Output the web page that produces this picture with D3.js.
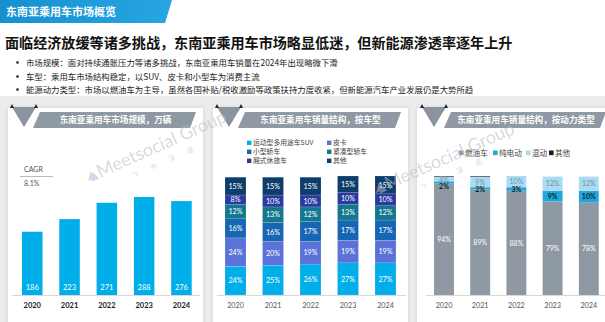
<!DOCTYPE html>
<html><head><meta charset="utf-8">
<script src="https://cdn.jsdelivr.net/npm/d3@7/dist/d3.min.js"></script>
<style>
html,body{margin:0;padding:0;background:#fff;}
svg{display:block;font-family:"Noto Sans CJK SC","Noto Sans",sans-serif;}
</style></head>
<body>
<svg id="c" width="605" height="322"></svg>
<script>
// ---------- data ----------
const years = ["2020","2021","2022","2023","2024"];
const marketSize = [186, 223, 271, 288, 276];
const cagrLabel = "8.1%";

const typeNames = ["运动型多用途车SUV","皮卡","小型轿车","紧凑型轿车","厢式休旅车","其他"];
const typeSUV      = [24, 25, 26, 27, 27];
const typePickup   = [24, 20, 19, 19, 19];
const typeSmall    = [16, 16, 17, 17, 17];
const typeCompact  = [12, 13, 12, 13, 12];
const typeMPV      = [8, 10, 10, 10, 10];
const typeOther    = [15, 15, 15, 15, 15];

const powerNames = ["燃油车","纯电动","混动","其他"];
const powerICE    = [94, 89, 88, 79, 78];
const powerBEV    = [2, 2, 3, 9, 10];
const powerHybrid = [4, 9, 10, 12, 12];
const powerOther  = [0.5, 0.5, 0.5, 0, 0];

const headerText = "东南亚乘用车市场概览";
const titleText = "面临经济放缓等诸多挑战，东南亚乘用车市场略显低迷，但新能源渗透率逐年上升";
const bullets = [
  "市场规模：面对持续通胀压力等诸多挑战，东南亚乘用车销量在2024年出现略微下滑",
  "车型：乘用车市场结构稳定，以SUV、皮卡和小型车为消费主流",
  "能源动力类型：市场以燃油车为主导，虽然各国补贴/税收激励等政策扶持力度收紧，但新能源汽车产业发展仍是大势所趋"
];
const panelTitles = ["东南亚乘用车市场规模，万辆","东南亚乘用车销量结构，按车型","东南亚乘用车销量结构，按动力类型"];

// ---------- drawing ----------
const svg = d3.select("#c");
const defs = svg.append("defs");
const grad = defs.append("linearGradient").attr("id","hg").attr("x1","0").attr("x2","1");
grad.append("stop").attr("offset","0").attr("stop-color","#1590d0");
grad.append("stop").attr("offset","1").attr("stop-color","#27a6e2");
const sh = defs.append("filter").attr("id","sh").attr("x","-5%").attr("y","-5%").attr("width","110%").attr("height","110%");
sh.append("feDropShadow").attr("dx",0).attr("dy",0).attr("stdDeviation",2).attr("flood-color","#000").attr("flood-opacity",0.12);

// background
svg.append("rect").attr("x",0).attr("y",96).attr("width",605).attr("height",226).attr("fill","#ececec");

// header banner
svg.append("path").attr("d","M0,0 L172,0 L165,23 L0,23 Z").attr("fill","url(#hg)");
svg.append("text").attr("x",6).attr("y",15.5).attr("fill","#fff").attr("font-size",11).attr("font-weight","bold").text(headerText);

// title
svg.append("text").attr("x",5).attr("y",48).attr("fill","#111").attr("font-size",14.1).attr("font-weight","bold").text(titleText);

// bullets
const bY = [63, 77, 90];
bullets.forEach((t,i)=>{
  svg.append("circle").attr("cx",17.5).attr("cy",bY[i]-0.5).attr("r",1.3).attr("fill","#222");
  svg.append("text").attr("x",26).attr("y",bY[i]+3).attr("fill","#222").attr("font-size",8.4).text(t);
});

// panels
const panels = [{x:8,w:195},{x:213,w:195},{x:417,w:200}];
panels.forEach(p=>{
  svg.append("rect").attr("x",p.x).attr("y",108).attr("width",p.w).attr("height",222).attr("fill","#fff").attr("filter","url(#sh)");
});

function panelHeader(tx, bx0, bx1, title){
  svg.append("path").attr("d",`M${tx+2},107 L${tx+26},107 L${tx+14},127 Z`).attr("fill","#8a949e");
  svg.append("path").attr("d",`M${tx},108 L${tx+2},104 L${tx+4},108 Z`).attr("fill","#222");
  svg.append("path").attr("d",`M${tx+24},108 L${tx+26},104 L${tx+28},108 Z`).attr("fill","#222");
  svg.append("path").attr("d",`M${bx0+7},112 L${bx1},112 L${bx1-6},128 L${bx0},128 Z`).attr("fill","#8f99a3");
  svg.append("text").attr("x",(bx0+bx1)/2+1).attr("y",123).attr("text-anchor","middle").attr("fill","#fff").attr("font-size",8.6).attr("font-weight","bold").text(title);
}
panelHeader(10, 33, 196, panelTitles[0]);
panelHeader(215, 238, 401, panelTitles[1]);
panelHeader(420, 444, 606, panelTitles[2]);

const yTop = 176, yBase = 295;
const numFont = "Lato, 'Noto Sans', sans-serif";

// ---- Chart 1 ----
const x1 = d3.scaleBand().domain(years).range([13.6,200.1]).paddingInner(0.45).paddingOuter(0.225);
const y1 = d3.scaleLinear().domain([0,288]).range([yBase,197]);
svg.append("g").selectAll("rect").data(years).join("rect")
  .attr("x",d=>x1(d)).attr("width",x1.bandwidth())
  .attr("y",(d,i)=>y1(marketSize[i])).attr("height",(d,i)=>yBase-y1(marketSize[i]))
  .attr("fill","#00aeea");
svg.append("g").selectAll("text").data(years).join("text")
  .attr("x",d=>x1(d)+x1.bandwidth()/2).attr("y",yBase-5)
  .attr("text-anchor","middle").attr("fill","#fff").attr("font-size",7.5).attr("font-family",numFont)
  .text((d,i)=>marketSize[i]);
const ax1 = svg.append("g").attr("transform",`translate(0,${yBase})`)
  .call(d3.axisBottom(x1).tickSize(0).tickPadding(8));
ax1.select(".domain").attr("d","M12,0.5H200").attr("stroke","#d8d8d8").attr("stroke-width",1.2);
ax1.selectAll("text").attr("font-size",7.5).attr("font-family",numFont).attr("font-weight",700).attr("fill","#222");
svg.append("text").attr("x",24).attr("y",172).attr("fill","#555").attr("font-size",7).attr("font-family",numFont).text("CAGR");
svg.append("line").attr("x1",20).attr("x2",53).attr("y1",176.5).attr("y2",176.5).attr("stroke","#aaa").attr("stroke-width",0.8);
svg.append("text").attr("x",24).attr("y",186).attr("fill","#555").attr("font-size",7).attr("font-family",numFont).text(cagrLabel);

// ---- Chart 2 ----
const typeColors = ["#00aeea","#5b72d8","#1666b4","#13778e","#2a3aa0","#0d3d6b"];
const typeSeries = [typeSUV,typePickup,typeSmall,typeCompact,typeMPV,typeOther];
const rows2 = years.map((y,i)=>{const o={year:y}; typeNames.forEach((n,k)=>o[n]=typeSeries[k][i]); return o;});
const st2 = d3.stack().keys(typeNames)(rows2);
const x2 = d3.scaleBand().domain(years).range([216.75,404.25]).paddingInner(0.44).paddingOuter(0.22);
const y2 = d3.scaleLinear().domain([0,100]).range([yBase,yTop]);
const g2 = svg.append("g");
st2.forEach((s,k)=>{
  g2.append("g").selectAll("rect").data(s).join("rect")
    .attr("x",d=>x2(d.data.year)).attr("width",x2.bandwidth())
    .attr("y",d=>y2(Math.min(d[1],100))).attr("height",d=>y2(d[0])-y2(Math.min(d[1],100)))
    .attr("fill",typeColors[k]).attr("stroke","rgba(255,255,255,0.35)").attr("stroke-width",0.4);
  g2.append("g").selectAll("text").data(s).join("text")
    .attr("x",d=>x2(d.data.year)+x2.bandwidth()/2).attr("y",d=>(y2(d[0])+y2(Math.min(d[1],100)))/2+2.6)
    .attr("text-anchor","middle").attr("fill","#fff").attr("font-size",7.2).attr("font-family",numFont)
    .text(d=>(d[1]-d[0])+"%");
});
const ax2 = svg.append("g").attr("transform",`translate(0,${yBase})`)
  .call(d3.axisBottom(x2).tickSize(0).tickPadding(8));
ax2.select(".domain").attr("d","M217,0.5H406").attr("stroke","#d8d8d8").attr("stroke-width",1.2);
ax2.selectAll("text").attr("font-size",7.2).attr("font-family",numFont).attr("fill","#555");
// legend 2
const lg2 = svg.append("g");
typeNames.forEach((n,k)=>{
  const col = k%2, row = Math.floor(k/2);
  const lx = col===0 ? 247 : 327, ly = 143 + row*9;
  lg2.append("rect").attr("x",lx).attr("y",ly-2.4).attr("width",4.4).attr("height",4.4).attr("fill",typeColors[k]);
  lg2.append("text").attr("x",lx+6).attr("y",ly+2.4).attr("fill","#444").attr("font-size",6.8).text(n);
});

// ---- Chart 3 ----
const powerColors = ["#8e99a3","#1ea8dc","#a9dcf3","#1a1a1a"];
const powerSeries = [powerICE,powerBEV,powerHybrid,powerOther];
const rows3 = years.map((y,i)=>{const o={year:y}; powerNames.forEach((n,k)=>o[n]=powerSeries[k][i]); return o;});
const st3 = d3.stack().keys(powerNames)(rows3);
const x3 = d3.scaleBand().domain(years).range([425.9,606.9]).paddingInner(0.45).paddingOuter(0.225);
const y3 = d3.scaleLinear().domain([0,100.5]).range([yBase,yTop]);
const g3 = svg.append("g");
st3.forEach((s,k)=>{
  g3.append("g").selectAll("rect").data(s).join("rect")
    .attr("x",d=>x3(d.data.year)).attr("width",x3.bandwidth())
    .attr("y",d=>y3(Math.min(d[1],100.5))).attr("height",d=>Math.max(0,y3(d[0])-y3(Math.min(d[1],100.5))))
    .attr("fill",powerColors[k]);
});
const lblStyle = [
  {fill:"#fff", weight:400},
  {fill:"#1a1a1a", weight:700},
  {fill:"#7d8b96", weight:400}
];
years.forEach((yr,i)=>{
  const cx = x3(yr)+x3.bandwidth()/2;
  const ys = [];
  for(let k=0;k<3;k++){
    const d = st3[k][i];
    ys.push((y3(d[0])+y3(d[1]))/2+2.6);
  }
  if (ys[1] < ys[2]+7) ys[1] = ys[2]+7;
  for(let k=0;k<3;k++){
    svg.append("text").attr("x",cx).attr("y",ys[k]).attr("text-anchor","middle")
      .attr("fill",lblStyle[k].fill).attr("font-weight",lblStyle[k].weight)
      .attr("font-size",7).attr("font-family",numFont)
      .text(powerSeries[k][i]+"%");
  }
});
const ax3 = svg.append("g").attr("transform",`translate(0,${yBase})`)
  .call(d3.axisBottom(x3).tickSize(0).tickPadding(8));
ax3.select(".domain").attr("d","M426,0.5H605").attr("stroke","#d8d8d8").attr("stroke-width",1.2);
ax3.selectAll("text").attr("font-size",7.2).attr("font-family",numFont).attr("fill","#555");
// legend 3
let lx3 = 459;
const lgWidths = [34, 33, 23, 22];
powerNames.forEach((n,k)=>{
  svg.append("rect").attr("x",lx3).attr("y",150.5).attr("width",4.6).attr("height",4.6).attr("fill",powerColors[k]);
  svg.append("text").attr("x",lx3+6).attr("y",155.5).attr("fill","#444").attr("font-size",7.6).text(n);
  lx3 += lgWidths[k];
});

// watermarks
function watermark(x,y){
  const g = svg.append("g").attr("transform",`translate(${x},${y}) rotate(-24)`).attr("opacity",0.55);
  g.append("path").attr("d","M-12,-2 L-6,-10 L-3,-2 Z").attr("fill","#f0a0a8");
  g.append("path").attr("d","M-9,0 L-4,-8 L-1,0 Z").attr("fill","#a8b8e8");
  g.append("text").attr("x",0).attr("y",0).attr("fill","#b8bcc4").attr("font-size",18).attr("font-family",numFont).text("Meetsocial Group");
  ["飞","书","深","诺"].forEach((c,i)=>{
    g.append("text").attr("x",30+i*20).attr("y",14).attr("fill","#b8bcc4").attr("font-size",7).text(c);
  });
}
watermark(100,178);
watermark(388,190);
</script>
</body></html>
